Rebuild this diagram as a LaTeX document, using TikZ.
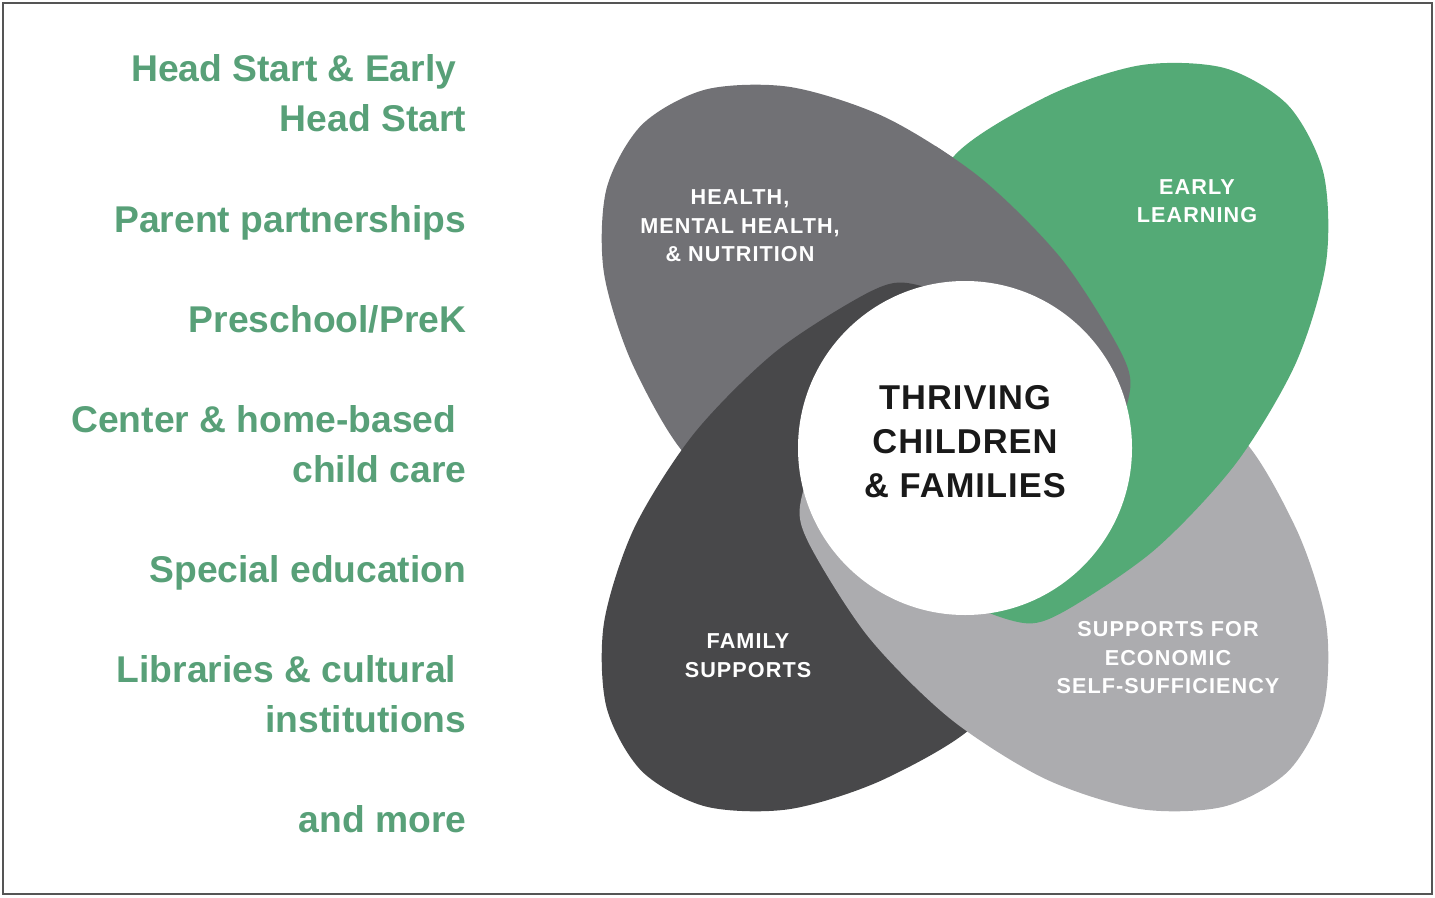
\documentclass[tikz,border=0pt]{standalone}
\usepackage{fontspec}
\setmainfont{Liberation Sans}
\newfontfamily\petalfont[LetterSpace=5]{Liberation Sans}
\newfontfamily\hubfont[LetterSpace=3]{Liberation Sans}
\definecolor{frame}{RGB}{85,85,85}
\definecolor{itemgreen}{RGB}{88,160,120}
\definecolor{petalgray}{RGB}{113,113,117}
\definecolor{petaldark}{RGB}{72,72,74}
\definecolor{petallight}{RGB}{172,172,175}
\definecolor{petalgreen}{RGB}{84,170,118}
\tikzset{
  petal/.pic={\path[pic actions] plot[smooth cycle] coordinates {
      (-3.306,0.796) (-3.610,1.747) (-3.585,2.593) (-3.232,3.232)
      (-2.593,3.585) (-1.747,3.610) (-0.796,3.306) (0.148,2.707)
      (0.968,1.887) (1.566,0.944) (1.64,0.52) (1.35,-0.10)
      (0.50,-0.50) (-0.80,-0.20) (-1.90,-0.15) (-2.707,-0.148)};},
  item/.style={anchor=base east,inner sep=0pt,text=itemgreen,font=\bfseries\fontsize{10.6}{12}\selectfont},
  petallabel/.style={text=white,align=center,font=\petalfont\bfseries\fontsize{6.15}{8.1}\selectfont},
  hubtext/.style={text=black!90,align=center,font=\hubfont\bfseries\fontsize{9.8}{12.5}\selectfont}
}

\begin{document}
\begin{tikzpicture}
    \useasboundingbox (0,0) rectangle (14.35,8.97);
    \draw[line width=0.7pt,draw=frame] (0.03,0.03) rectangle (14.32,8.94);
    \coordinate (c) at (9.65,4.49);

    % the four petals
    \pic[fill=petalgray] at (c) {petal};
    \pic[fill=petaldark,rotate=90] at (c) {petal};
    \pic[fill=petallight,rotate=180] at (c) {petal};
    \pic[fill=petalgreen,yscale=1.06,rotate=-90] at (c) {petal};
    % health petal lies over early learning
    \begin{scope}
        \clip ([xshift=-0.3cm]c) rectangle (14.35,8.97);
        \pic[fill=petalgray] at (c) {petal};
    \end{scope}

    \node[circle,fill=white,minimum size=3.34cm,inner sep=0pt] (hub) at (c) {};
    \node[hubtext] (thriving) at ([yshift=0.06cm]hub.center) {THRIVING\\CHILDREN\\\& FAMILIES};

    \node[petallabel] (health) at (7.40,6.71) {HEALTH,\\MENTAL HEALTH,\\\& NUTRITION};
    \node[petallabel] (early) at (11.97,6.96) {EARLY\\LEARNING};
    \node[petallabel] (family) at (7.48,2.415) {FAMILY\\SUPPORTS};
    \node[petallabel] (economic) at (11.68,2.39) {SUPPORTS FOR\\ECONOMIC\\SELF-SUFFICIENCY};

    \node[item] (hs1) at (4.57,8.15) {Head Start \& Early};
    \node[item] (hs2) at (4.67,7.65) {Head Start};
    \node[item] (parent) at (4.67,6.65) {Parent partnerships};
    \node[item] (prek) at (4.67,5.65) {Preschool/PreK};
    \node[item] (care1) at (4.57,4.65) {Center \& home-based};
    \node[item] (care2) at (4.67,4.15) {child care};
    \node[item] (special) at (4.67,3.15) {Special education};
    \node[item] (lib1) at (4.57,2.15) {Libraries \& cultural};
    \node[item] (lib2) at (4.67,1.65) {institutions};
    \node[item] (more) at (4.67,0.65) {and more};
\end{tikzpicture}
\end{document}
